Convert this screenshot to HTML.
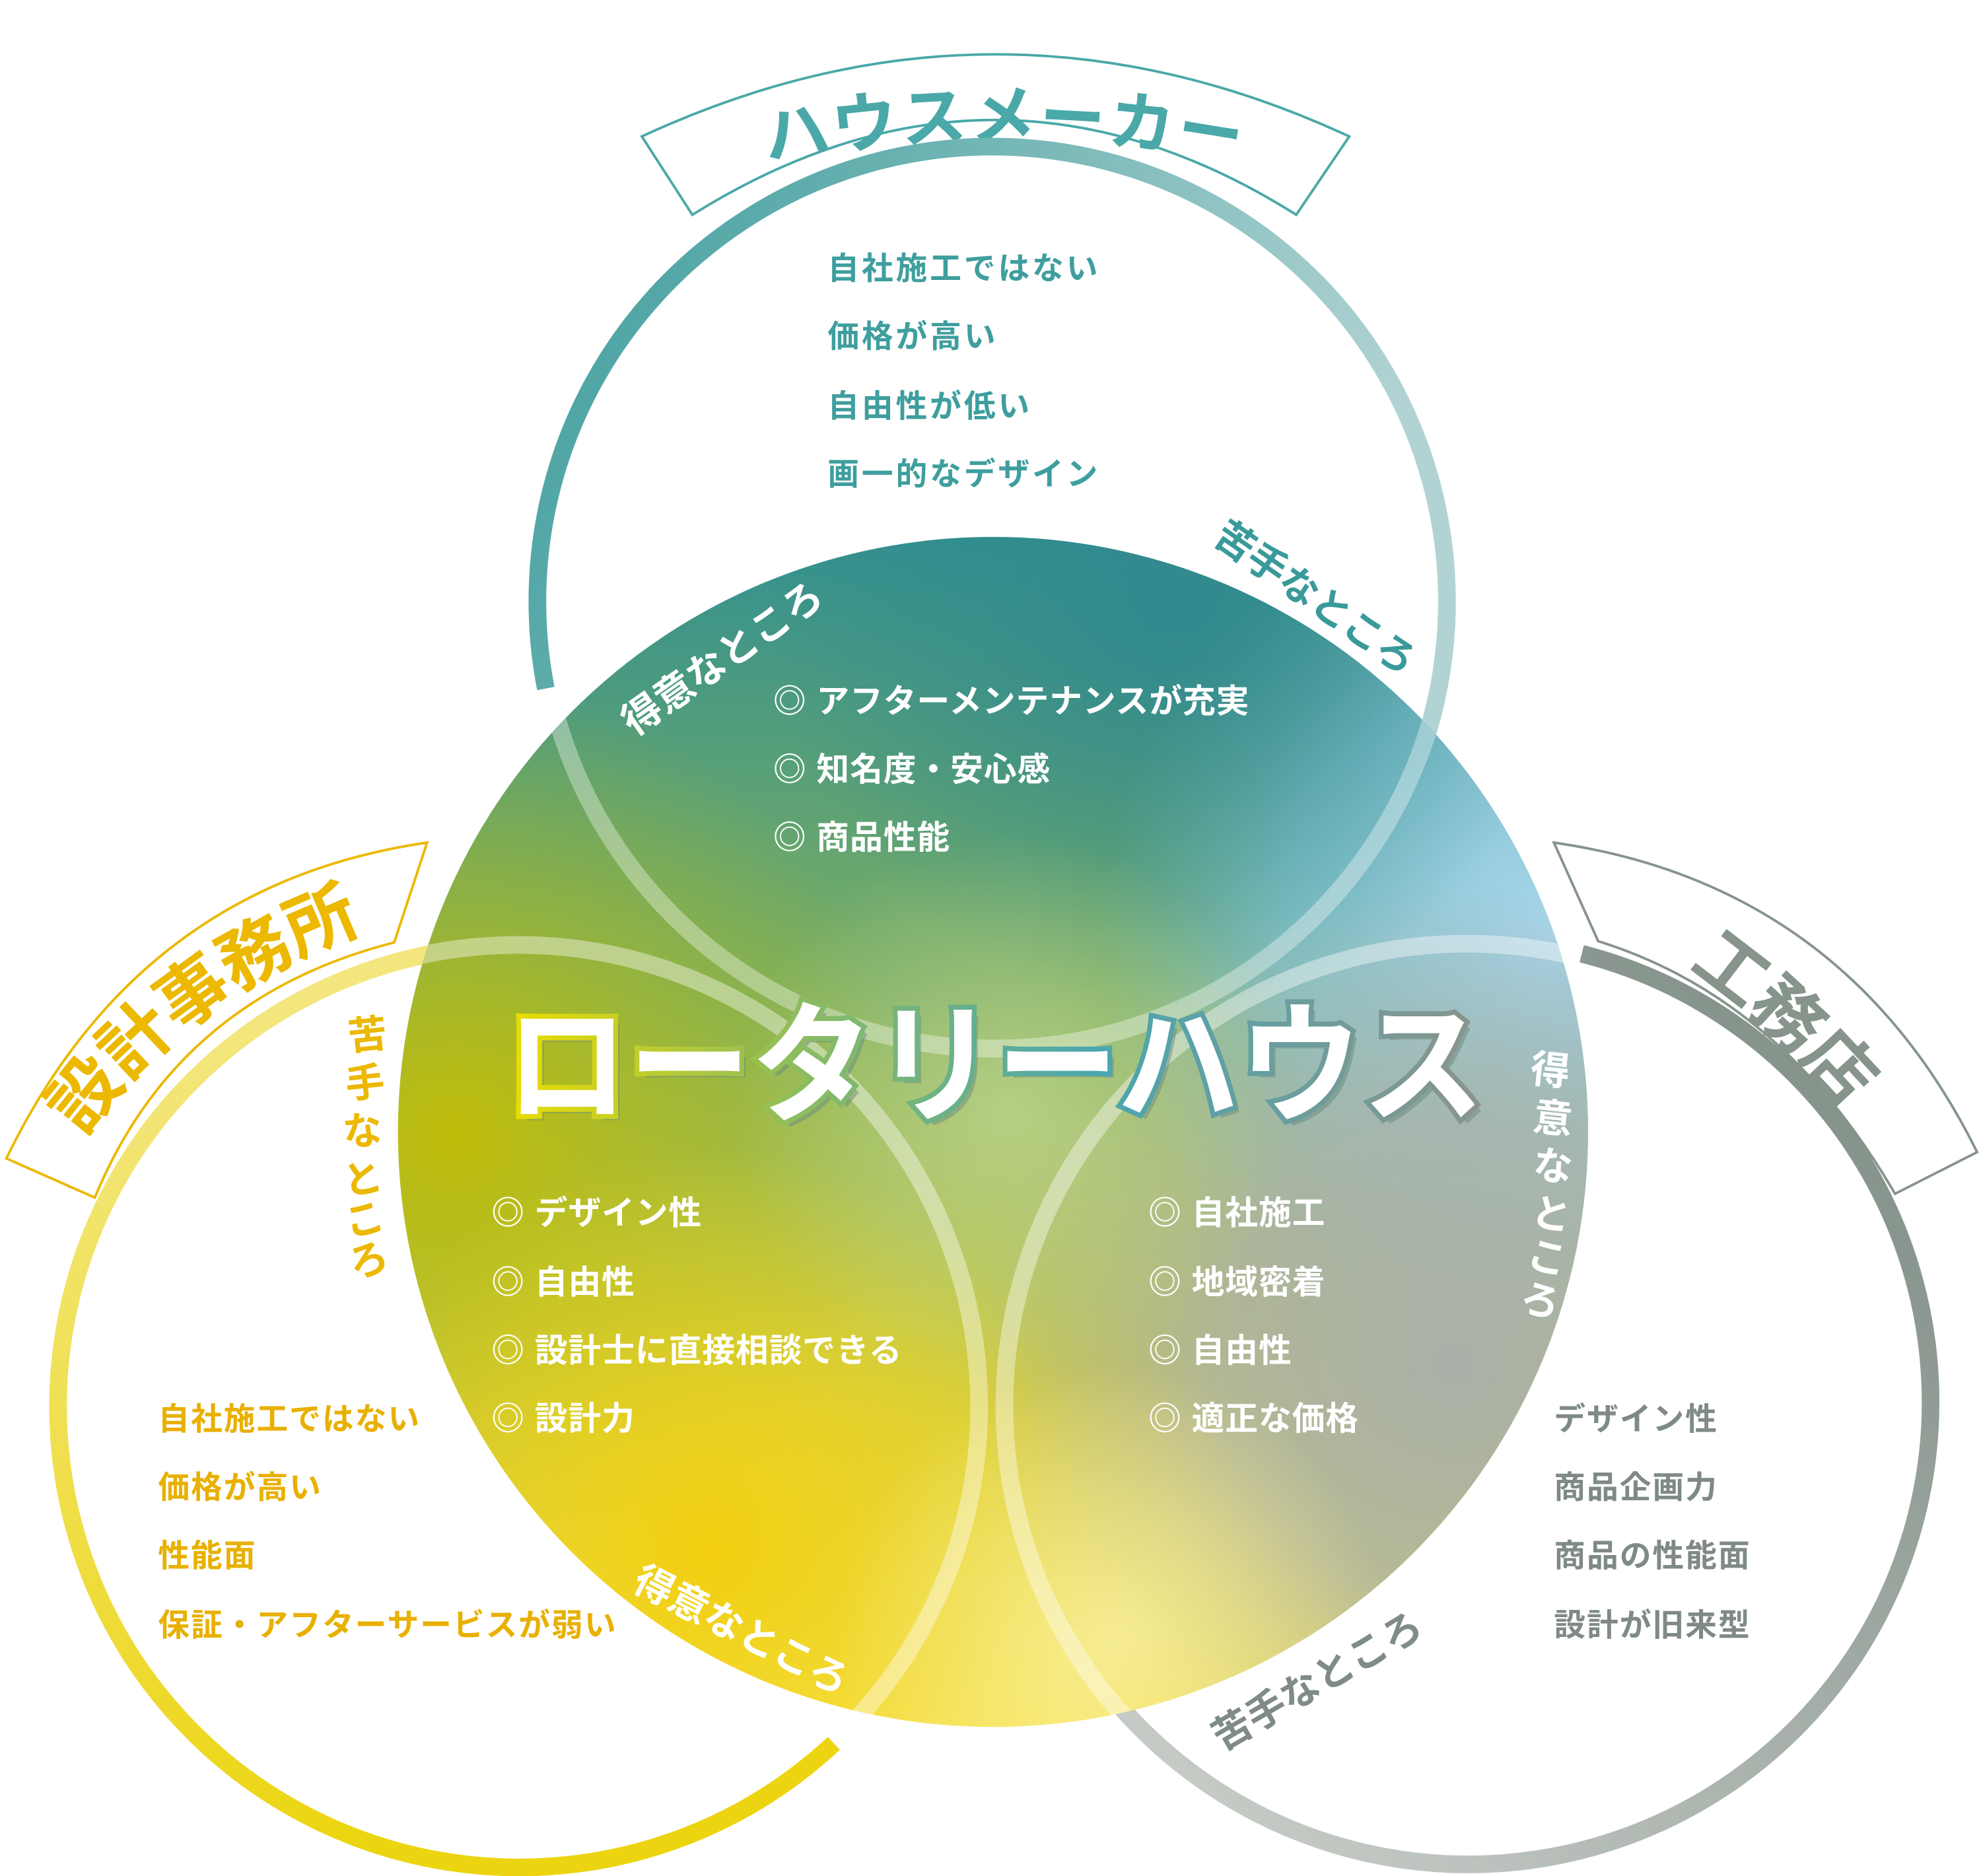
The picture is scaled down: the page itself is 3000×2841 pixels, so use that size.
<!DOCTYPE html>
<html><head><meta charset="utf-8"><style>html,body{margin:0;padding:0;background:#fff}svg{display:block}text{font-family:"Liberation Sans","Noto Sans CJK JP",sans-serif;font-weight:bold}</style></head>
<body>
<svg width="3000" height="2841" viewBox="0 0 1568 1485" xmlns="http://www.w3.org/2000/svg">
<defs>
<linearGradient id="gTop" x1="0" y1="0" x2="1" y2="0.3"><stop offset="0" stop-color="#3f9d9d"/><stop offset="1" stop-color="#b2d3d3"/></linearGradient>
<linearGradient id="gLeft" x1="0" y1="0" x2="0.3" y2="1"><stop offset="0" stop-color="#f4e98e"/><stop offset="1" stop-color="#ecd510"/></linearGradient>
<linearGradient id="gRight" x1="1" y1="0" x2="0" y2="1"><stop offset="0" stop-color="#7a8981"/><stop offset="1" stop-color="#d2d5d1"/></linearGradient>
<linearGradient id="gBase" x1="0" y1="0" x2="0" y2="1"><stop offset="0" stop-color="#33908f"/><stop offset="0.4" stop-color="#7fb060"/><stop offset="0.75" stop-color="#d8cf40"/><stop offset="1" stop-color="#f8e350"/></linearGradient>
<radialGradient id="rBlue" cx="1230" cy="740" r="360" gradientUnits="userSpaceOnUse"><stop offset="0" stop-color="#a8d6ee" stop-opacity="1"/><stop offset="0.6" stop-color="#8ccae4" stop-opacity="0.75"/><stop offset="1" stop-color="#88c6e0" stop-opacity="0"/></radialGradient>
<radialGradient id="rGray" cx="1150" cy="1080" r="380" gradientUnits="userSpaceOnUse"><stop offset="0" stop-color="#a9b0a8" stop-opacity="1"/><stop offset="0.5" stop-color="#abb2a8" stop-opacity="0.8"/><stop offset="1" stop-color="#a9b0a8" stop-opacity="0"/></radialGradient>
<radialGradient id="rOlive" cx="360" cy="900" r="360" gradientUnits="userSpaceOnUse"><stop offset="0" stop-color="#c0bd0a" stop-opacity="1"/><stop offset="1" stop-color="#a8b820" stop-opacity="0"/></radialGradient>
<radialGradient id="rYel" cx="560" cy="1230" r="320" gradientUnits="userSpaceOnUse"><stop offset="0" stop-color="#f2cf10" stop-opacity="1"/><stop offset="1" stop-color="#f2d820" stop-opacity="0"/></radialGradient>
<radialGradient id="rTeal" cx="930" cy="480" r="320" gradientUnits="userSpaceOnUse"><stop offset="0" stop-color="#30888f" stop-opacity="0.9"/><stop offset="1" stop-color="#30888f" stop-opacity="0"/></radialGradient>
<radialGradient id="rPale" cx="800" cy="880" r="220" gradientUnits="userSpaceOnUse"><stop offset="0" stop-color="#c4d896" stop-opacity="0.7"/><stop offset="1" stop-color="#c4d896" stop-opacity="0"/></radialGradient>
<radialGradient id="rYel2" cx="880" cy="1300" r="220" gradientUnits="userSpaceOnUse"><stop offset="0" stop-color="#f8ee98" stop-opacity="0.9"/><stop offset="1" stop-color="#f8ee98" stop-opacity="0"/></radialGradient>
<linearGradient id="gTitle" x1="400" y1="0" x2="1175" y2="0" gradientUnits="userSpaceOnUse"><stop offset="0" stop-color="#ecdc00"/><stop offset="0.3" stop-color="#8cbc60"/><stop offset="0.6" stop-color="#4aa6b0"/><stop offset="1" stop-color="#8a948c"/></linearGradient>
<clipPath id="cBig"><circle cx="786" cy="896" r="471"/></clipPath>
<path id="pTop" d="M 585,132 Q 795,88 1005,132"/>
<path id="pLeft" d="M 50,925 Q 135,785 315,727"/>
<path id="pRight" d="M 1300,742 Q 1405,805 1488,912"/>
</defs>

<path d="M508,108 Q788,-22 1068,108 L1026,170 Q788,20 548,170 Z" fill="#fff" stroke="#4aa8a8" stroke-width="2"/>
<text font-size="52" fill="#4aa8a8" letter-spacing="2"><textPath href="#pTop" startOffset="50%" text-anchor="middle">ハウスメーカー</textPath></text>
<path d="M5,917 Q110,700 338,667 L312,746 Q140,790 75,948 Z" fill="#fff" stroke="#ecb800" stroke-width="2"/>
<text font-size="56" fill="#ecb800"><textPath href="#pLeft" startOffset="50%" text-anchor="middle">設計事務所</textPath></text>
<path d="M1230,667 Q1460,700 1565,912 L1500,945 Q1410,790 1265,745 Z" fill="#fff" stroke="#86948c" stroke-width="2"/>
<text font-size="56" fill="#86948c"><textPath href="#pRight" startOffset="50%" text-anchor="middle">工務店</textPath></text>

<path d="M432,545 A360,360 0 1 1 1130,580" fill="none" stroke="url(#gTop)" stroke-width="14"/>
<path d="M660,1380 A365,365 0 1 1 690,878" fill="none" stroke="url(#gLeft)" stroke-width="14"/>
<path d="M1252,755 A366,366 0 1 1 817,988" fill="none" stroke="url(#gRight)" stroke-width="14"/>

<circle cx="786" cy="896" r="471" fill="url(#gBase)"/>
<g clip-path="url(#cBig)">
<rect x="300" y="400" width="1000" height="1000" fill="url(#rOlive)"/>
<rect x="300" y="400" width="1000" height="1000" fill="url(#rYel)"/>
<rect x="300" y="400" width="1000" height="1000" fill="url(#rBlue)"/>
<rect x="300" y="400" width="1000" height="1000" fill="url(#rGray)"/>
<rect x="300" y="400" width="1000" height="1000" fill="url(#rTeal)"/>
<rect x="300" y="400" width="1000" height="1000" fill="url(#rPale)"/>
<rect x="300" y="400" width="1000" height="1000" fill="url(#rYel2)"/>
<circle cx="787" cy="470" r="360" fill="none" stroke="#fff" stroke-opacity="0.35" stroke-width="14"/>
<circle cx="410" cy="1113" r="365" fill="none" stroke="#fff" stroke-opacity="0.4" stroke-width="14"/>
<circle cx="1161" cy="1113" r="366" fill="none" stroke="#fff" stroke-opacity="0.4" stroke-width="14"/>
</g>

<text x="400" y="880" font-size="104" textLength="775" lengthAdjust="spacingAndGlyphs" fill="#6a8a80" fill-opacity="0.5" transform="translate(5,5)">ロータリーハウス</text>
<text x="400" y="880" font-size="104" textLength="775" lengthAdjust="spacingAndGlyphs" fill="#fff" stroke="url(#gTitle)" stroke-width="8" paint-order="stroke" stroke-linejoin="miter">ロータリーハウス</text>

<text font-size="31" fill="#fff" text-anchor="middle" transform="translate(578,530) rotate(-35)">得意なところ</text>
<text font-size="31" fill="#3a9a9a" text-anchor="middle" transform="translate(1035,482) rotate(35)">苦手なところ</text>
<text font-size="31" fill="#fff" text-anchor="middle" transform="translate(582,1300) rotate(27)">得意なところ</text>
<text font-size="31" fill="#7f8c85" text-anchor="middle" transform="translate(1048,1340) rotate(-30)">苦手なところ</text>
<g font-size="31" fill="#ecb800" text-anchor="middle">
<text transform="translate(292,830) rotate(-6)">苦</text>
<text transform="translate(290,868) rotate(-6)">手</text>
<text transform="translate(288,906) rotate(-6)">な</text>
<text transform="translate(289,944) rotate(-10)">と</text>
<text transform="translate(291,976) rotate(-14)">こ</text>
<text transform="translate(295,1008) rotate(-18)">ろ</text>
</g>
<g font-size="31" fill="#fff" text-anchor="middle">
<text transform="translate(1226,858) rotate(6)">得</text>
<text transform="translate(1228,896) rotate(6)">意</text>
<text transform="translate(1228,934) rotate(6)">な</text>
<text transform="translate(1226,972) rotate(10)">と</text>
<text transform="translate(1222,1006) rotate(14)">こ</text>
<text transform="translate(1216,1040) rotate(18)">ろ</text>
</g>

<g font-size="25" fill="#3f9e9e" letter-spacing="2">
<text x="655" y="221">自社施工ではない</text>
<text x="655" y="275">価格が高い</text>
<text x="655" y="330">自由性が低い</text>
<text x="655" y="384">画一的なデザイン</text>
</g>
<g font-size="26" fill="#fff" letter-spacing="0.5">
<text x="612" y="564">◎ アフターメンテナンスが充実</text>
<text x="612" y="618">◎ 知名度・安心感</text>
<text x="612" y="672">◎ 商品性能</text>
<text x="389" y="969">◎ デザイン性</text>
<text x="389" y="1024">◎ 自由性</text>
<text x="389" y="1078">◎ 設計士に直接相談できる</text>
<text x="389" y="1132">◎ 設計力</text>
<text x="909" y="969">◎ 自社施工</text>
<text x="909" y="1024">◎ 地域密着</text>
<text x="909" y="1078">◎ 自由性</text>
<text x="909" y="1132">◎ 適正な価格</text>
</g>
<g font-size="25" fill="#e8b000" letter-spacing="1">
<text x="125" y="1132">自社施工ではない</text>
<text x="125" y="1186">価格が高い</text>
<text x="125" y="1240">性能面</text>
<text x="125" y="1295">保証・アフターサービスが弱い</text>
</g>
<g font-size="25" fill="#7f8a85" letter-spacing="1">
<text x="1230" y="1132">デザイン性</text>
<text x="1230" y="1186">商品企画力</text>
<text x="1230" y="1240">商品の性能面</text>
<text x="1230" y="1295">設計が旧来型</text>
</g>
</svg>
</body></html>
